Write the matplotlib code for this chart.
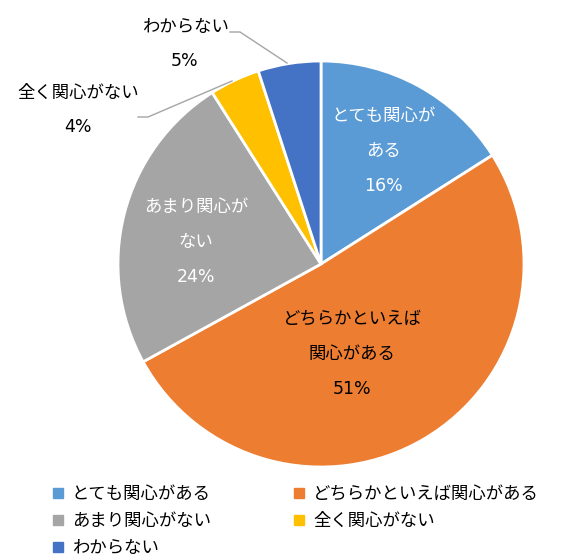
import matplotlib
matplotlib.use("Agg")
import matplotlib.pyplot as plt
from matplotlib.lines import Line2D

# DejaVu first for the wide digits, Noto CJK for the Japanese glyphs
plt.rcParams['font.family'] = ['DejaVu Sans', 'Noto Sans CJK JP']

categories = ["とても関心がある", "どちらかといえば関心がある", "あまり関心がない", "全く関心がない", "わからない"]
values = [16, 51, 24, 4, 5]
colors = ["#5B9BD5", "#ED7D31", "#A5A5A5", "#FFC000", "#4472C4"]
pie_labels = ["とても関心が\nある", "どちらかといえば\n関心がある", "あまり関心が\nない", "全く関心がない", "わからない"]

fig = plt.figure(figsize=(5.63, 5.60), dpi=100)
# pie centred at (321, 264) px with radius about 203 px
ax = fig.add_axes([118 / 563, (560 - 467) / 560, 406 / 563, 406 / 560])
wedges, _ = ax.pie(values, colors=colors, startangle=90, counterclock=False,
                   radius=1, wedgeprops=dict(edgecolor="white", linewidth=2))
ax.set_xlim(-1, 1)
ax.set_ylim(-1, 1)
ax.set_aspect("equal")
ax.axis("off")


def px(x, y):
    # pixel position in the picture -> data coords of the pie axes
    return (x - 321) / 203, (264 - y) / 203


fs = 12.5
ls = 2.2
inside = [(384, 151, "white"), (352, 354, "black"), (196, 242, "white")]
for i, (x, y, c) in enumerate(inside):
    ax.text(*px(x, y), f"{pie_labels[i]}\n{values[i]}%", color=c, fontsize=fs,
            ha="center", va="center", linespacing=ls)

# outside labels with leader lines
ax.text(*px(78, 110), f"{pie_labels[3]}\n{values[3]}%", fontsize=fs, ha="center",
        va="center", linespacing=ls, clip_on=False)
ax.text(*px(185, 44), f"{pie_labels[4]}\n{values[4]}%", fontsize=fs, ha="center",
        va="center", linespacing=ls, clip_on=False)
for pts in [[(138, 117), (148, 117), (232, 81)], [(230, 32), (240, 32), (287, 63)]]:
    xs, ys = zip(*[px(*p) for p in pts])
    ax.plot(xs, ys, color="#A5A5A5", lw=1, clip_on=False)

# legend filled row by row like the original
order = [0, 2, 4, 1, 3]
handles = [Line2D([], [], marker="s", linestyle="none", markersize=6.5,
                  markerfacecolor=colors[i], markeredgecolor=colors[i]) for i in order]
fig.legend(handles, [categories[i] for i in order], ncol=2, loc="upper left",
           bbox_to_anchor=(51 / 563, 1 - 485 / 560), frameon=False, fontsize=fs,
           handlelength=0.8, handletextpad=0.4, columnspacing=4.7,
           labelspacing=0.52, borderaxespad=0, borderpad=0)

fig.savefig("out.png", dpi=100)
